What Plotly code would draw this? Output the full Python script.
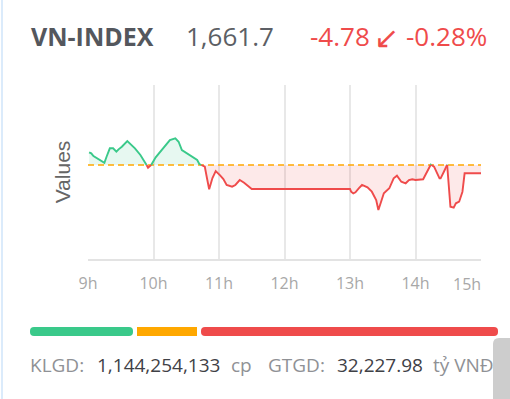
import plotly.graph_objects as go

# ---------------- data ----------------
times = ["09:01", "09:03", "09:05", "09:11", "09:15", "09:17", "09:20", "09:23", "09:26", "09:28",
         "09:31", "09:36", "09:39", "09:43", "09:48", "09:52", "09:55", "09:58", "10:02", "10:06",
         "10:11", "10:15", "10:20", "10:23", "10:26", "10:31", "10:35", "10:40", "10:42", "10:47",
         "10:49", "10:51", "10:54", "10:57", "11:01", "11:04", "11:07", "11:12", "11:15", "11:19",
         "11:23", "11:27", "11:30", "13:00", "13:01", "13:03", "13:05", "13:08", "13:11", "13:16",
         "13:20", "13:24", "13:26", "13:29", "13:31", "13:36", "13:40", "13:43", "13:47", "13:51",
         "13:54", "13:57", "14:00", "14:07", "14:10", "14:14", "14:17", "14:22", "14:23", "14:26",
         "14:29", "14:31", "14:32", "14:35", "14:37", "14:40", "14:42", "14:43", "14:45", "15:00"]
values = [1673.80, 1673.22, 1671.66, 1669.36, 1667.80, 1671.26, 1676.10, 1676.10, 1674.14, 1675.52,
          1677.02, 1680.30, 1678.58, 1676.10, 1672.24, 1668.38, 1664.92, 1666.60, 1670.92, 1674.14,
          1678.00, 1680.88, 1681.86, 1679.90, 1675.12, 1673.22, 1671.26, 1669.36, 1667.06, 1665.50,
          1658.82, 1652.48, 1659.00, 1663.00, 1660.50, 1658.40, 1654.96, 1653.98, 1654.96, 1657.84,
          1656.28, 1653.98, 1652.66, 1652.66, 1651.10, 1650.18, 1650.76, 1653.06, 1654.96, 1653.64,
          1651.10, 1646.32, 1640.56, 1646.32, 1650.18, 1653.06, 1658.82, 1660.32, 1656.86, 1655.94,
          1657.84, 1658.24, 1657.84, 1658.24, 1661.70, 1666.70, 1665.50, 1658.82, 1658.82, 1662.62,
          1666.60, 1650.18, 1642.46, 1641.88, 1644.42, 1645.34, 1650.18, 1651.10, 1661.70, 1661.70]
ref_value = 1666.48
index_name = "VN-INDEX"
last_value = "1,661.7"
change_value = "-4.78"
change_arrow = "\u2199"
change_pct = "-0.28%"
hour_ticks = [9, 10, 11, 12, 13, 14, 15]
hour_labels = ["9h", "10h", "11h", "12h", "13h", "14h", "15h"]
breadth_names = ["Tăng", "Đứng giá", "Giảm"]
breadth_counts = [103, 60, 297]
klgd_label, klgd_value, klgd_unit = "KLGD:", "1,144,254,133", "cp"
gtgd_label, gtgd_value, gtgd_unit = "GTGD:", "32,227.98", "tỷ VNĐ"

# ---------------- styles ----------------
W, H = 510, 399
GREEN = "#3ac98a"
RED = "#ef4b4b"
ORANGE = "#ffa800"
FONT = "Open Sans"


def px_x(x):
    return x / W


def px_y(y):
    return (H - y) / H


hours = [int(t[:2]) + int(t[3:]) / 60 for t in times]

# insert crossing points with the reference line (for colouring only)
X, Y = [], []
for i in range(len(hours)):
    if i > 0:
        y0, y1 = values[i - 1], values[i]
        if (y0 - ref_value) * (y1 - ref_value) < 0:
            t = (ref_value - y0) / (y1 - y0)
            X.append(hours[i - 1] + t * (hours[i] - hours[i - 1]))
            Y.append(ref_value)
    X.append(hours[i])
    Y.append(values[i])

up_line = [y if y >= ref_value else None for y in Y]
down_line = [y if y <= ref_value else None for y in Y]
up_fill = [max(y, ref_value) for y in Y]
down_fill = [min(y, ref_value) for y in Y]
ref_line = [ref_value] * len(X)

fig = go.Figure()
fig.add_trace(go.Scatter(x=X, y=ref_line, mode="lines", line=dict(width=0), hoverinfo="skip", showlegend=False))
fig.add_trace(go.Scatter(x=X, y=up_fill, mode="lines", line=dict(width=0), fill="tonexty",
                         fillcolor="rgba(58,201,138,0.12)", hoverinfo="skip", showlegend=False))
fig.add_trace(go.Scatter(x=X, y=ref_line, mode="lines", line=dict(width=0), hoverinfo="skip", showlegend=False))
fig.add_trace(go.Scatter(x=X, y=down_fill, mode="lines", line=dict(width=0), fill="tonexty",
                         fillcolor="rgba(239,75,75,0.12)", hoverinfo="skip", showlegend=False))
fig.add_trace(go.Scatter(x=[9, 15], y=[ref_value, ref_value], mode="lines",
                         line=dict(color=ORANGE, width=1.6, dash="6px,4px"), showlegend=False))
fig.add_trace(go.Scatter(x=X, y=up_line, mode="lines", line=dict(color=GREEN, width=1.9),
                         connectgaps=False, showlegend=False))
fig.add_trace(go.Scatter(x=X, y=down_line, mode="lines", line=dict(color=RED, width=1.9),
                         connectgaps=False, showlegend=False))

# breadth bar (advancing / unchanged / declining)
GAP = 4
colors = [GREEN, ORANGE, RED]
starts = []
acc = 0
for c in breadth_counts:
    starts.append(acc)
    acc += c + GAP
total = acc - GAP
fig.add_trace(go.Bar(x=[-breadth_counts[0]], base=[starts[0] + breadth_counts[0]], y=[0], orientation="h",
                     marker=dict(color=colors[0], cornerradius=5, line=dict(width=0)), width=1,
                     xaxis="x2", yaxis="y2", name=breadth_names[0], showlegend=False))
fig.add_trace(go.Bar(x=[breadth_counts[1]], base=[starts[1]], y=[0], orientation="h",
                     marker=dict(color=colors[1], cornerradius=0, line=dict(width=0)), width=1,
                     xaxis="x2", yaxis="y2", name=breadth_names[1], showlegend=False))
fig.add_trace(go.Bar(x=[breadth_counts[2]], base=[starts[2]], y=[0], orientation="h",
                     marker=dict(color=colors[2], cornerradius=5, line=dict(width=0)), width=1,
                     xaxis="x2", yaxis="y2", name=breadth_names[2], showlegend=False))

annotations = [
    dict(text="<b>" + index_name + "</b>", x=px_x(29), y=px_y(36), font=dict(size=25, color="#54575d", family=FONT)),
    dict(text=last_value, x=px_x(184), y=px_y(36), font=dict(size=26, color="#5c5f65", family=FONT)),
    dict(text=change_value, x=px_x(308), y=px_y(36), font=dict(size=26, color=RED, family=FONT)),
    dict(text=change_arrow, x=px_x(386), y=px_y(36), xanchor="center", font=dict(size=30, color=RED, family=FONT)),
    dict(text=change_pct, x=px_x(404), y=px_y(36), font=dict(size=26, color=RED, family=FONT)),
    dict(text=klgd_label, x=px_x(28), y=px_y(365), font=dict(size=19, color="#8f9195", family=FONT)),
    dict(text=klgd_value, x=px_x(95), y=px_y(365), font=dict(size=19, color="#3f4146", family=FONT)),
    dict(text=klgd_unit, x=px_x(229), y=px_y(365), font=dict(size=19, color="#8f9195", family=FONT)),
    dict(text=gtgd_label, x=px_x(266), y=px_y(365), font=dict(size=19, color="#8f9195", family=FONT)),
    dict(text=gtgd_value, x=px_x(335), y=px_y(365), font=dict(size=19, color="#3f4146", family=FONT)),
    dict(text=gtgd_unit, x=px_x(431), y=px_y(365), font=dict(size=19, color="#8f9195", family=FONT)),
]
for a in annotations:
    a.setdefault("xanchor", "left")
    a.update(xref="paper", yref="paper", yanchor="middle", showarrow=False)
annotations.append(dict(text=hour_labels[-1], x=hour_ticks[-1], xshift=-14, xref="x", y=px_y(284), yref="paper",
                        xanchor="center", yanchor="middle", showarrow=False,
                        font=dict(size=16, color="#a8a8a8", family=FONT)))

shapes = [
    dict(type="line", xref="paper", yref="paper", x0=px_x(2), x1=px_x(2), y0=0, y1=1,
         line=dict(color="#cfe4fa", width=1.5)),
    dict(type="path", xref="paper", yref="paper",
         path=f"M {px_x(493)},0 L {px_x(493)},{px_y(344)} Q {px_x(493)},{px_y(338)} {px_x(499)},{px_y(338)} "
              f"L 1,{px_y(338)} L 1,0 Z",
         fillcolor="#cdcdcd", line=dict(width=0)),
]

fig.update_layout(
    width=W, height=H,
    margin=dict(l=0, r=0, t=0, b=0, autoexpand=False),
    paper_bgcolor="white", plot_bgcolor="white",
    showlegend=False,
    barmode="overlay",
    xaxis=dict(domain=[px_x(88), px_x(481)], range=[9, 15], tickvals=hour_ticks[:-1], ticktext=hour_labels[:-1],
               showgrid=True, gridcolor="#e8e8e8", gridwidth=1.5, zeroline=False, automargin=False,
               showline=True, linecolor="#e3e3e3", linewidth=1.5, ticks="",
               ticklabelstandoff=9, tickfont=dict(size=16, color="#a8a8a8", family=FONT)),
    yaxis=dict(domain=[px_y(259), px_y(85)], range=[1612.3, 1712.6], showgrid=False, zeroline=False,
               showticklabels=False, ticks="", showline=False, automargin=False,
               title=dict(text="Values", font=dict(size=21, color="#666666", family="Liberation Sans"),
                          standoff=10)),
    xaxis2=dict(domain=[px_x(30), px_x(498)], range=[0, total], visible=False, anchor="y2"),
    yaxis2=dict(domain=[px_y(336), px_y(327)], range=[-0.5, 0.5], visible=False, anchor="x2"),
    annotations=annotations,
    shapes=shapes,
)

fig.write_html("out.html", config={"displayModeBar": False},
               post_script="document.body.style.margin='0';document.body.style.overflow='hidden';")
